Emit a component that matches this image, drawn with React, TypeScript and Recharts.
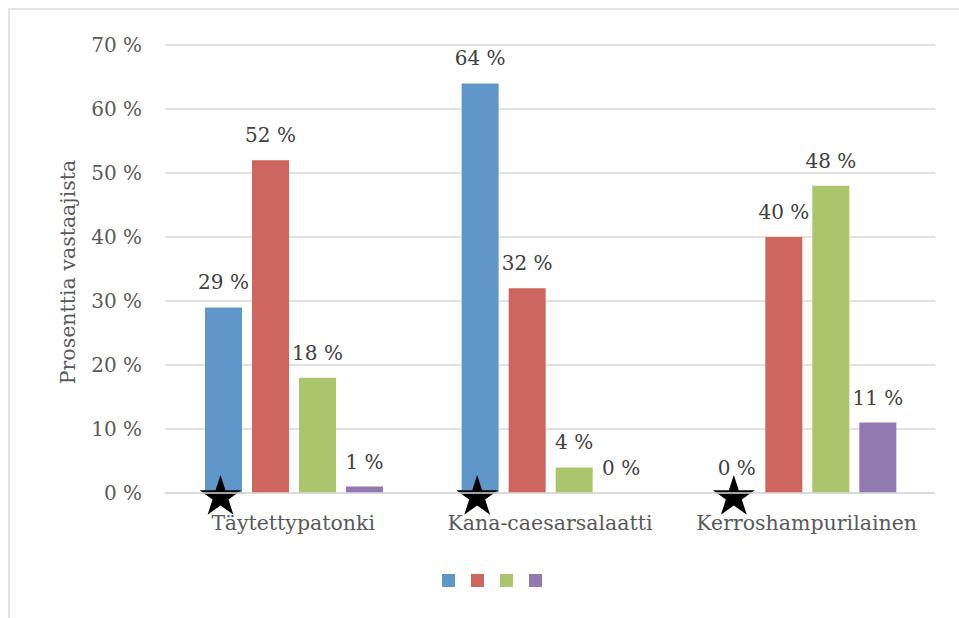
import { BarChart, Bar, XAxis, YAxis, CartesianGrid, Legend, LabelList, Rectangle } from "recharts";

const categories = ["Täytettypatonki", "Kana-caesarsalaatti", "Kerroshampurilainen"];
const seriesA = [29, 64, 0];
const seriesB = [52, 32, 40];
const seriesC = [18, 4, 48];
const seriesD = [1, 0, 11];
const yTicks = [0, 10, 20, 30, 40, 50, 60, 70];

const colors = ["#6097CB", "#CE655E", "#AAC56B", "#9379B2"];
const FONT = "'DejaVu Serif', 'Liberation Serif', serif";

const data = categories.map((name, i) => ({
  name,
  a: seriesA[i],
  b: seriesB[i],
  c: seriesC[i],
  d: seriesD[i],
}));

const starPoints = (cx: number, cy: number, R: number) => {
  const r = R * 0.382;
  const pts: string[] = [];
  for (let i = 0; i < 10; i++) {
    const rad = i % 2 === 0 ? R : r;
    const ang = -Math.PI / 2 + (i * Math.PI) / 5;
    pts.push(`${cx + rad * Math.cos(ang)},${cy + rad * Math.sin(ang)}`);
  }
  return pts.join(" ");
};

const PlainBar = (props: any) => {
  const { x, y, width, height, fill } = props;
  if (!(height > 0)) return <g />;
  return <Rectangle x={x} y={y} width={width} height={height} fill={fill} />;
};

// first bar of each group carries a black star at its foot
const StarBar = (props: any) => {
  const { x, y, width, height } = props;
  const bottom = y + height;
  return (
    <g>
      <PlainBar {...props} />
      <polygon points={starPoints(x + width / 2 - 3, bottom + 4, 22)} fill="#000" />
    </g>
  );
};

const fmt = (v: any) => `${v} %`;

// value label above bar, no wrapping
const ValueLabel = (p: any) => {
  const { x, y, width, value } = p;
  return (
    <text
      x={x + width / 2}
      y={y - 18}
      textAnchor="middle"
      style={{ fontFamily: FONT, fontSize: 20, fill: "#404040" }}
    >
      {fmt(value)}
    </text>
  );
};

const LegendSquares = () => (
  <div style={{ height: 0, overflow: "visible" }}>
    <div style={{ display: "flex", gap: 16 }}>
      {colors.map((c) => (
        <div key={c} style={{ width: 13, height: 13, background: c }} />
      ))}
    </div>
  </div>
);

export default function App() {
  return (
    <div style={{ position: "absolute", left: 0, top: 0, width: 959, height: 618, overflow: "hidden", background: "#fff" }}>
      <div
        style={{
          position: "absolute",
          left: 8,
          top: 8,
          width: 1100,
          height: 800,
          borderTop: "2px solid #e3e3e3",
          borderLeft: "2px solid #e3e3e3",
        }}
      />
      <div style={{ position: "absolute", left: 0, top: 0 }}>
        <BarChart
          width={959}
          height={618}
          data={data}
          margin={{ top: 45, right: 24, bottom: 85, left: 0 }}
          barCategoryGap={40}
          barGap={10}
        >
          <CartesianGrid vertical={false} stroke="#d9d9d9" strokeWidth={1.5} />
          <XAxis
            dataKey="name"
            height={40}
            axisLine={{ stroke: "#d9d9d9", strokeWidth: 1.5 }}
            tickLine={false}
            tickMargin={16}
            tick={{ fontFamily: FONT, fontSize: 20.5, fill: "#595959" }}
            interval={0}
          />
          <YAxis
            width={165}
            domain={[0, 70]}
            ticks={yTicks}
            tickFormatter={fmt}
            axisLine={false}
            tickLine={false}
            tickMargin={17}
            tick={{ fontFamily: FONT, fontSize: 20, fill: "#595959" }}
            label={{
              content: (p: any) => {
                const vb = p.viewBox;
                const cx = vb.x + 68;
                const cy = vb.y + vb.height / 2 + 3;
                return (
                  <text
                    x={cx}
                    y={cy}
                    transform={`rotate(-90 ${cx} ${cy})`}
                    textAnchor="middle"
                    dominantBaseline="central"
                    style={{ fontFamily: FONT, fontSize: 20.5, fill: "#595959" }}
                  >
                    Prosenttia vastaajista
                  </text>
                );
              },
            }}
          />
          <Legend
            content={<LegendSquares />}
            wrapperStyle={{ left: 442, top: 574, width: "auto" }}
          />
          <Bar dataKey="a" fill={colors[0]} shape={StarBar} isAnimationActive={false}>
            <LabelList dataKey="a" content={ValueLabel} />
          </Bar>
          <Bar dataKey="b" fill={colors[1]} shape={PlainBar} isAnimationActive={false}>
            <LabelList dataKey="b" content={ValueLabel} />
          </Bar>
          <Bar dataKey="c" fill={colors[2]} shape={PlainBar} isAnimationActive={false}>
            <LabelList dataKey="c" content={ValueLabel} />
          </Bar>
          <Bar dataKey="d" fill={colors[3]} shape={PlainBar} isAnimationActive={false}>
            <LabelList dataKey="d" content={ValueLabel} />
          </Bar>
        </BarChart>
      </div>
    </div>
  );
}
